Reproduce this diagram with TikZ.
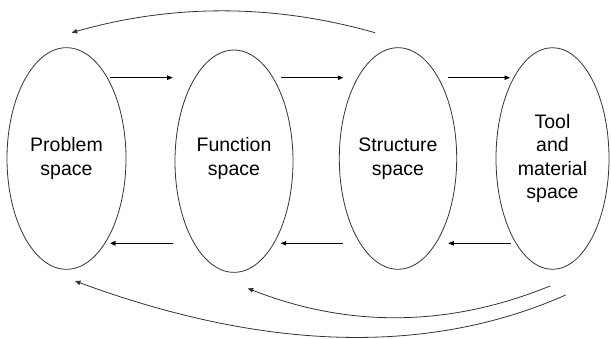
\documentclass[tikz,border=0pt]{standalone}
\usepackage{fontspec}
\setmainfont{Liberation Sans}
\usetikzlibrary{arrows.meta,shapes.geometric}
\begin{document}
\begin{tikzpicture}[x=1pt,y=1pt,
  spacebox/.style={ellipse,draw=black!80,line width=0.8pt,inner sep=0pt,align=center,
    font=\fontsize{19.5}{23.5}\selectfont},
  spacetext/.style={inner sep=0pt,align=center,font=\fontsize{19.5}{23.5}\selectfont},
  arr/.style={-{Triangle[length=5.5pt,width=4.5pt]},line width=0.7pt,draw=black},
  curv/.style={-{Triangle[length=5.5pt,width=4.5pt]},line width=0.8pt,draw=black!80},
  ]
\useasboundingbox (0,0) rectangle (611,338);
\node[spacebox,minimum width=119pt,minimum height=221.6pt] (p) at (66.5,179.5) {Problem\\space};
\node[spacebox,minimum width=118pt,minimum height=222.3pt,
  label={[spacetext,yshift=2.7pt]center:Function\\space}] (f) at (234,176.8) {};
\node[spacebox,minimum width=117.4pt,minimum height=221.6pt] (s) at (398,179.5) {Structure\\space};
\node[spacebox,minimum width=113pt,minimum height=221.6pt] (t) at (552.5,179.5) {Tool\\and\\material\\space};
% straight arrows, top row
\coordinate (pfa) at (110,260.3);   \coordinate (pfb) at (172.7,260.3);
\coordinate (fsa) at (280.7,260.3); \coordinate (fsb) at (343.3,260.3);
\coordinate (sta) at (448.3,260.3); \coordinate (stb) at (510,260.3);
\draw[arr] (pfa) -- (pfb);
\draw[arr] (fsa) -- (fsb);
\draw[arr] (sta) -- (stb);
% straight arrows, bottom row
\coordinate (tsa) at (511,94.7);   \coordinate (tsb) at (448.3,94.7);
\coordinate (sfa) at (343.3,94.7); \coordinate (sfb) at (280.7,94.7);
\coordinate (fpa) at (172.7,94.7); \coordinate (fpb) at (110,94.7);
\draw[arr] (tsa) -- (tsb);
\draw[arr] (sfa) -- (sfb);
\draw[arr] (fpa) -- (fpb);
% curved arrows
\coordinate (spa) at (375,305.3);  \coordinate (spb) at (71.7,305.3);
\draw[curv] (spa) .. controls (273.7,334.2) and (172.6,334.2) .. (spb);
\coordinate (tfa) at (550,52);     \coordinate (tfb) at (247.7,49.7);
\draw[curv] (tfa) .. controls (449.2,10.8) and (348.4,10.0) .. (tfb);
\coordinate (tpa) at (565.7,43);   \coordinate (tpb) at (75,57);
\draw[curv] (tpa) .. controls (428.6,-17.7) and (265,-13) .. (tpb);
\end{tikzpicture}
\end{document}
